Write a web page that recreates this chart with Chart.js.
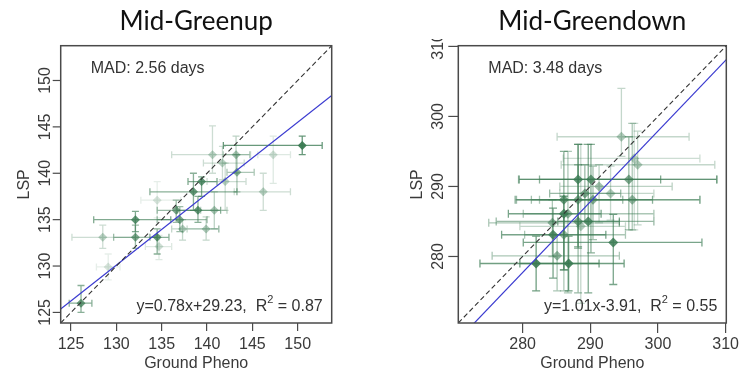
<!DOCTYPE html>
<html><head><meta charset="utf-8">
<script src="https://cdn.jsdelivr.net/npm/chart.js@4.4.1/dist/chart.umd.min.js"></script>
<style>
html,body{margin:0;padding:0;background:#fff;}
#wrap{position:relative;width:741px;height:372px;overflow:hidden;background:#fff;}
.pane{position:absolute;top:0;height:372px;}
#p1{left:0;width:370px;}
#p2{left:370px;width:371px;}
</style></head><body>
<div id="wrap"><div class="pane" id="p1"><canvas id="c1"></canvas></div><div class="pane" id="p2"><canvas id="c2"></canvas></div></div>
<script>
// ---------- Mid-Greenup ----------
const greenupX     = [126.1, 150.5, 132.1, 128.5, 132.1, 134.5, 134.7, 136.6, 137.0, 137.3, 138.5, 139.4, 139.0, 139.9, 140.8, 140.6, 141.7, 142.0, 143.2, 143.3, 146.2, 147.3, 129.1, 134.5];
const greenupY     = [126.0, 143.0, 135.0, 133.1, 133.1, 133.1, 132.1, 136.0, 135.0, 134.0, 138.0, 139.1, 136.0, 134.0, 136.0, 142.0, 141.1, 139.1, 142.0, 140.1, 138.0, 142.0, 129.9, 137.1];
const greenupXLo   = [124.8, 141.8, 127.5, 125.1, 129.7, 133.7, 133.2, 134.5, 134.5, 136.1, 133.7, 137.9, 136.7, 137.8, 139.3, 136.1, 139.6, 140.0, 141.8, 142.2, 143.0, 145.6, 127.8, 132.7];
const greenupXHi   = [127.3, 152.7, 136.0, 132.1, 134.5, 135.8, 136.1, 139.0, 140.0, 141.3, 143.3, 141.1, 141.5, 141.3, 142.2, 144.8, 144.1, 144.3, 144.7, 145.2, 149.2, 149.2, 130.4, 137.1];
const greenupYLo   = [125.0, 142.0, 133.7, 131.9, 131.9, 131.3, 130.7, 134.7, 133.7, 132.8, 136.0, 137.5, 134.7, 132.8, 134.0, 140.0, 139.3, 136.0, 140.0, 138.0, 136.0, 138.9, 128.5, 135.2];
const greenupYHi   = [127.9, 144.0, 135.9, 134.4, 134.4, 134.0, 133.3, 137.1, 136.4, 135.0, 140.0, 139.6, 137.5, 135.3, 138.0, 145.1, 142.9, 141.1, 144.0, 142.0, 140.0, 144.0, 131.3, 139.1];
const greenupAlpha = [0.7, 0.9, 0.75, 0.3, 0.6, 0.7, 0.2, 0.6, 0.6, 0.35, 0.7, 0.75, 0.7, 0.35, 0.4, 0.3, 0.3, 0.3, 0.4, 0.5, 0.3, 0.2, 0.15, 0.15];
const greenupTicks = [125, 130, 135, 140, 145, 150];
const greenupRange = [123.86, 153.75];
const greenupFit   = [0.77, 30.0];   // slope, intercept of the drawn fit line

// ---------- Mid-Greendown ----------
const greendownX     = [282.0, 286.8, 285.1, 284.5, 286.1, 293.4, 284.4, 286.1, 286.7, 286.1, 288.2, 288.6, 289.7, 288.2, 289.2, 288.2, 290.1, 290.4, 291.3, 293.0, 294.6, 295.7, 296.2, 297.0, 296.5];
const greendownY     = [279.0, 279.0, 280.1, 283.1, 283.1, 282.0, 284.8, 286.1, 286.1, 288.1, 285.0, 284.3, 285.0, 288.1, 289.0, 291.0, 291.0, 288.1, 290.0, 289.0, 297.1, 291.0, 288.1, 293.1, 294.0];
const greendownXLo   = [273.7, 279.6, 275.5, 276.9, 280.3, 280.1, 275.0, 277.9, 280.1, 278.9, 276.1, 279.6, 285.2, 279.1, 284.0, 279.5, 282.5, 281.3, 285.5, 285.5, 285.1, 279.4, 282.5, 285.7, 286.0];
const greendownXHi   = [291.3, 295.0, 294.3, 292.3, 295.2, 306.5, 294.3, 291.6, 299.4, 299.2, 299.4, 295.2, 294.3, 294.8, 294.5, 300.4, 308.7, 306.2, 302.1, 299.4, 304.6, 308.7, 306.2, 308.4, 306.2];
const greendownYLo   = [275.1, 275.1, 275.1, 276.9, 275.1, 276.0, 280.0, 278.1, 274.8, 278.1, 274.8, 273.3, 274.8, 281.4, 285.0, 281.2, 280.5, 282.4, 284.8, 285.2, 294.3, 283.8, 283.8, 284.5, 283.8];
const greendownYHi   = [282.9, 282.9, 283.1, 286.9, 286.0, 286.0, 288.1, 288.6, 295.0, 295.0, 296.0, 296.0, 296.0, 293.1, 293.1, 296.0, 296.0, 292.9, 293.1, 292.9, 304.0, 297.1, 299.0, 297.9, 299.0];
const greendownAlpha = [0.85, 0.85, 0.5, 0.8, 0.5, 0.8, 0.5, 0.8, 0.5, 0.7, 0.6, 0.35, 0.75, 0.6, 0.6, 0.75, 0.7, 0.55, 0.4, 0.35, 0.35, 0.6, 0.5, 0.35, 0.3];
const greendownTicks = [280, 290, 300, 310];
const greendownRange = [270.5, 310.1];
const greendownFit   = [1.01, -5.1];

// ---------- text ----------
const panelTitles = ['Mid-Greenup', 'Mid-Greendown'];
const madLabels   = ['MAD: 2.56 days', 'MAD: 3.48 days'];
const eqLabels    = ['y=0.78x+29.23,  R', 'y=1.01x-3.91,  R'];
const r2Labels    = [' = 0.87', ' = 0.55'];
const xTitle = 'Ground Pheno';
const yTitle = 'LSP';

const GREEN = [58, 122, 82];
const rgba = (c, a) => `rgba(${c[0]},${c[1]},${c[2]},${a})`;
const AXIS_FONT = '"Liberation Sans", Arial, sans-serif';

function makePanel(canvasId, p) {
  const pts = p.x.map((v, i) => ({x: v, y: p.y[i]}));
  const fitPts = p.range.map(v => ({x: v, y: p.fit[0] * v + p.fit[1]}));
  const onePts = p.range.map(v => ({x: v, y: v}));

  const errorBars = {
    id: 'errorBars',
    beforeDatasetsDraw(chart) {
      const {ctx, chartArea: a, scales: {x, y}} = chart;
      ctx.save();
      ctx.beginPath(); ctx.rect(a.left, a.top, a.right - a.left, a.bottom - a.top); ctx.clip();
      ctx.lineWidth = 1.3;
      const cap = p.cap;
      p.x.forEach((v, i) => {
        ctx.strokeStyle = rgba(GREEN, p.alpha[i] * 0.85);
        const px = x.getPixelForValue(v), py = y.getPixelForValue(p.y[i]);
        const x0 = x.getPixelForValue(p.xlo[i]), x1 = x.getPixelForValue(p.xhi[i]);
        const y0 = y.getPixelForValue(p.ylo[i]), y1 = y.getPixelForValue(p.yhi[i]);
        ctx.beginPath();
        ctx.moveTo(x0, py); ctx.lineTo(x1, py);
        ctx.moveTo(x0, py - cap); ctx.lineTo(x0, py + cap);
        ctx.moveTo(x1, py - cap); ctx.lineTo(x1, py + cap);
        ctx.moveTo(px, y0); ctx.lineTo(px, y1);
        ctx.moveTo(px - cap, y0); ctx.lineTo(px + cap, y0);
        ctx.moveTo(px - cap, y1); ctx.lineTo(px + cap, y1);
        ctx.stroke();
      });
      ctx.restore();
    }
  };

  const decor = {
    id: 'decor',
    afterDraw(chart) {
      const {ctx, chartArea: a, scales: {y}} = chart;
      ctx.save();
      // box
      ctx.strokeStyle = '#4a4a4a'; ctx.lineWidth = 1.5;
      ctx.strokeRect(a.left, a.top, a.right - a.left, a.bottom - a.top);
      // y ticks + rotated labels
      ctx.save();
      ctx.beginPath(); ctx.rect(0, 39, chart.width, chart.height); ctx.clip();
      ctx.lineWidth = 1.2; ctx.strokeStyle = '#4a4a4a';
      ctx.fillStyle = '#3a3a3a';
      ctx.font = `16px ${AXIS_FONT}`;
      ctx.textAlign = 'center'; ctx.textBaseline = 'middle';
      p.ticks.forEach(t => {
        const py = y.getPixelForValue(t);
        ctx.beginPath(); ctx.moveTo(a.left, py); ctx.lineTo(a.left - p.tick, py); ctx.stroke();
        ctx.save();
        ctx.translate(a.left - p.ylabOff, py);
        ctx.rotate(-Math.PI / 2);
        ctx.fillText(String(t), 0, 1);
        ctx.restore();
      });
      ctx.restore();
      // title
      ctx.fillStyle = '#111';
      ctx.font = '26px Lato, "Open Sans", sans-serif';
      ctx.textAlign = 'center'; ctx.textBaseline = 'alphabetic';
      ctx.fillText(p.title, (a.left + a.right) / 2, 29.5);
      // MAD
      ctx.fillStyle = '#333';
      ctx.font = `16px ${AXIS_FONT}`;
      ctx.textAlign = 'left'; ctx.textBaseline = 'middle';
      ctx.fillText(p.mad, a.left + 30, a.top + 23);
      // equation with superscript
      const main = p.eq, sup = '2', tail = p.r2;
      ctx.font = `16px ${AXIS_FONT}`;
      const w1 = ctx.measureText(main).width, w3 = ctx.measureText(tail).width;
      ctx.font = `11px ${AXIS_FONT}`;
      const w2 = ctx.measureText(sup).width;
      let sx = a.right - 9 - (w1 + w2 + w3);
      const ey = a.bottom - 16;
      ctx.font = `16px ${AXIS_FONT}`;
      ctx.fillText(main, sx, ey); sx += w1;
      ctx.font = `11px ${AXIS_FONT}`;
      ctx.fillText(sup, sx, ey - 7); sx += w2;
      ctx.font = `16px ${AXIS_FONT}`;
      ctx.fillText(tail, sx, ey);
      ctx.restore();
    }
  };

  return new Chart(document.getElementById(canvasId), {
    type: 'scatter',
    data: {
      datasets: [
        {type: 'line', data: onePts, borderColor: '#333', borderWidth: 1.1, borderDash: [5, 3], pointRadius: 0, fill: false},
        {type: 'line', data: fitPts, borderColor: '#3a3ad0', borderWidth: 1.2, pointRadius: 0, fill: false},
        {data: pts, pointStyle: 'rectRot', pointRadius: p.radius,
         backgroundColor: p.alpha.map(a => rgba(GREEN, Math.min(1, a + 0.05))),
         borderColor: p.alpha.map(a => rgba(GREEN, Math.min(1, a + 0.05))), borderWidth: 0}
      ]
    },
    options: {
      responsive: true, maintainAspectRatio: false, animation: false,
      layout: {padding: {left: p.padL, top: 45.7, right: p.padR, bottom: 0}},
      plugins: {legend: {display: false}, tooltip: {enabled: false}},
      scales: {
        x: {
          type: 'linear', min: p.range[0], max: p.range[1],
          afterBuildTicks: s => { s.ticks = p.ticks.map(v => ({value: v})); },
          afterFit: s => { s.height = 49; },
          grid: {display: true, drawOnChartArea: false, drawTicks: true, tickLength: p.tick, color: '#4a4a4a', lineWidth: 1.2},
          border: {display: false},
          ticks: {color: '#3a3a3a', font: {family: AXIS_FONT, size: 16}, padding: p.xpad, maxRotation: 0, autoSkip: false},
          title: {display: true, text: xTitle, color: '#3a3a3a', font: {family: AXIS_FONT, size: 16, lineHeight: 1}, padding: {top: 0, bottom: 0}}
        },
        y: {
          type: 'linear', min: p.range[0], max: p.range[1],
          afterBuildTicks: s => { s.ticks = p.ticks.map(v => ({value: v})); },
          afterFit: s => { s.width = p.yW; },
          grid: {display: false},
          border: {display: false},
          ticks: {display: false},
          title: {display: true, text: yTitle, color: '#3a3a3a', font: {family: AXIS_FONT, size: 16, lineHeight: 1}, padding: {top: 0, bottom: 0}}
        }
      }
    },
    plugins: [errorBars, decor]
  });
}

makePanel('c1', {
  x: greenupX, y: greenupY, xlo: greenupXLo, xhi: greenupXHi, ylo: greenupYLo, yhi: greenupYHi,
  alpha: greenupAlpha, ticks: greenupTicks, range: greenupRange, fit: greenupFit,
  title: panelTitles[0], mad: madLabels[0], eq: eqLabels[0], r2: r2Labels[0],
  padL: 17, yW: 43.7, padR: 38.3, tick: 8, xpad: 4, ylabOff: 16, cap: 3.5, radius: 4.5
});
makePanel('c2', {
  x: greendownX, y: greendownY, xlo: greendownXLo, xhi: greendownXHi, ylo: greendownYLo, yhi: greendownYHi,
  alpha: greendownAlpha, ticks: greendownTicks, range: greendownRange, fit: greendownFit,
  title: panelTitles[1], mad: madLabels[1], eq: eqLabels[1], r2: r2Labels[1],
  padL: 40, yW: 48.3, padR: 12.7, tick: 10, xpad: 2, ylabOff: 20.5, cap: 4, radius: 5
});
</script>
</body></html>
